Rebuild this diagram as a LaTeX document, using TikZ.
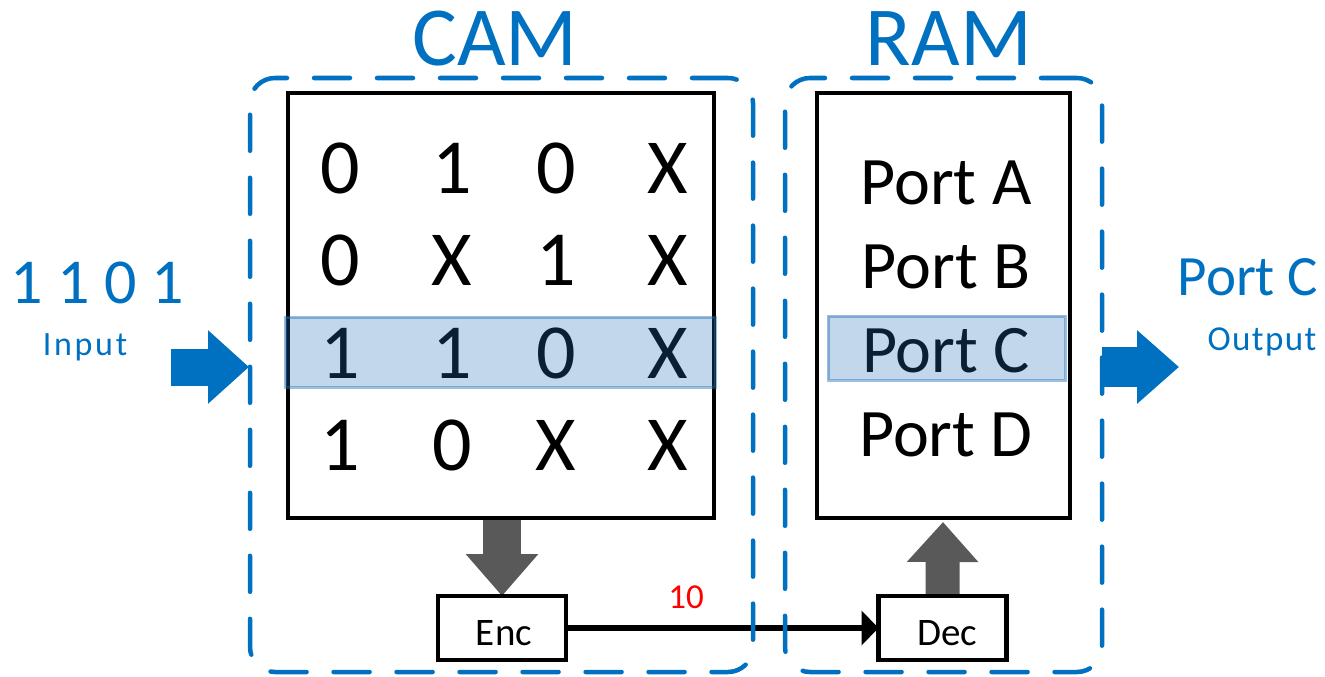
\documentclass[tikz,border=0pt]{standalone}
\usepackage{fontspec}
\setmainfont{Carlito}
\usetikzlibrary{arrows.meta}
\definecolor{accent}{HTML}{0070C0}
\definecolor{arrowgray}{HTML}{595959}
\definecolor{hl}{RGB}{36,112,184}
\newcommand{\fsz}[1]{\fontsize{#1}{#1}\selectfont}
\begin{document}
\begin{tikzpicture}[x=1pt,y=-1pt,
  dashbox/.style={draw=accent, line width=4.5pt, dash pattern=on 36pt off 27pt, line cap=round, rounded corners=25pt, inner sep=0pt, outer sep=0pt},
  blackbox/.style={draw=black, line width=4.5pt, inner sep=0pt, outer sep=0pt},
  cell/.style={anchor=base, font=\fsz{78}, inner sep=0pt},
  portt/.style={anchor=base, font=\fsz{68}, inner sep=0pt},
  smallbox/.style={draw=black, line width=4.5pt, inner sep=0pt, outer sep=0pt, minimum width=128pt, minimum height=64pt},
  hlbox/.style={fill=hl, fill opacity=0.28, draw=hl, draw opacity=0.45, line width=3pt, inner sep=0pt, outer sep=0pt},
  title/.style={anchor=base, font=\fsz{84}, text=accent, inner sep=0pt}
]
\useasboundingbox (0,0) rectangle (1325,677);

% boxes (nodes)
\node[blackbox, minimum width=426pt, minimum height=425pt] (cam) at (501,305.5) {};
\node[blackbox, minimum width=253pt, minimum height=425pt] (ram) at (943.5,305.5) {};
\node[smallbox] (enc) at (502,628) {};
\node[smallbox] (dec) at (942.5,628) {};

% connectors
\coordinate (dnS) at (502,520);
\coordinate (upT) at (943,522);
\draw[arrowgray, line width=38pt, -{Triangle[length=42pt,width=70pt]}] (dnS) -- (enc.north);
\draw[arrowgray, line width=34pt, -{Triangle[length=40pt,width=69pt]}] (dec.north) -- (upT);
\draw[black, line width=6pt, -{Triangle[length=17pt,width=34pt]}] (enc.east) -- (dec.west);

% dashed groups
\node[dashbox, minimum width=503pt, minimum height=594pt] (camd) at (501.5,375) {};
\node[dashbox, minimum width=317pt, minimum height=594pt] (ramd) at (943.5,375) {};

% redraw black boxes on top
\draw[line width=4.5pt] (cam.north west) rectangle (cam.south east);
\draw[line width=4.5pt] (ram.north west) rectangle (ram.south east);
\draw[line width=4.5pt] (enc.north west) rectangle (enc.south east);
\draw[line width=4.5pt] (dec.north west) rectangle (dec.south east);

% input / output arrows
\coordinate (inS) at (171,367);
\coordinate (inT) at (249,367);
\coordinate (outT) at (1179,367);
\draw[accent, line width=37pt, -{Triangle[length=41pt,width=71pt]}] (inS) -- (inT);
\draw[accent, line width=40pt, -{Triangle[length=42pt,width=71pt]}] (ramd.east |- outT) -- (outT);

% titles
\node[title] (camt) at (495,66) {CAM};
\node[title] (ramt) at (949,66) {RAM};

% CAM table
\node[cell] (c11) at (340,193) {0};
\node[cell] (c12) at (452,193) {1};
\node[cell] (c13) at (556,193) {0};
\node[cell] (c14) at (668,193) {X};
\node[cell] (c21) at (340,285.5) {0};
\node[cell] (c22) at (452,285.5) {X};
\node[cell] (c23) at (556,285.5) {1};
\node[cell] (c24) at (668,285.5) {X};
\node[cell] (c31) at (340,378) {1};
\node[cell] (c32) at (452,378) {1};
\node[cell] (c33) at (556,378) {0};
\node[cell] (c34) at (668,378) {X};
\node[cell] (c41) at (340,470.5) {1};
\node[cell] (c42) at (452,470.5) {0};
\node[cell] (c43) at (556,470.5) {X};
\node[cell] (c44) at (668,470.5) {X};

% RAM entries
\node[portt] (pa) at (946,204) {Port A};
\node[portt] (pb) at (946,288) {Port B};
\node[portt] (pc) at (946,372) {Port C};
\node[portt] (pd) at (946,456) {Port D};

% highlights
\node[hlbox, minimum width=430pt, minimum height=70pt] (hlcam) at (500,352) {};
\node[hlbox, minimum width=237pt, minimum height=64pt] (hlram) at (946.5,348) {};

% side labels
\node[anchor=base, font=\fsz{64}, text=accent, inner sep=0pt] (inval) at (97.5,303) {1 1 0 1};
\node[anchor=base, font={\fsz{34}\addfontfeature{LetterSpace=8}}, text=accent, inner sep=0pt] (inlab) at (85,355) {Input};
\node[anchor=base, font=\fsz{57}, text=accent, inner sep=0pt] (outval) at (1248,295) {Port C};
\node[anchor=base, font={\fsz{35}\addfontfeature{LetterSpace=4}}, text=accent, inner sep=0pt] (outlab) at (1262,350) {Output};

% enc / dec labels
\node[anchor=base, font=\fsz{39}, inner sep=0pt] (enct) at (504,645) {Enc};
\node[anchor=base, font=\fsz{39}, inner sep=0pt] (dect) at (947,645) {Dec};
\node[anchor=base, font=\fsz{35}, text=red, inner sep=0pt] (bits) at (686,608) {10};
\end{tikzpicture}
\end{document}
